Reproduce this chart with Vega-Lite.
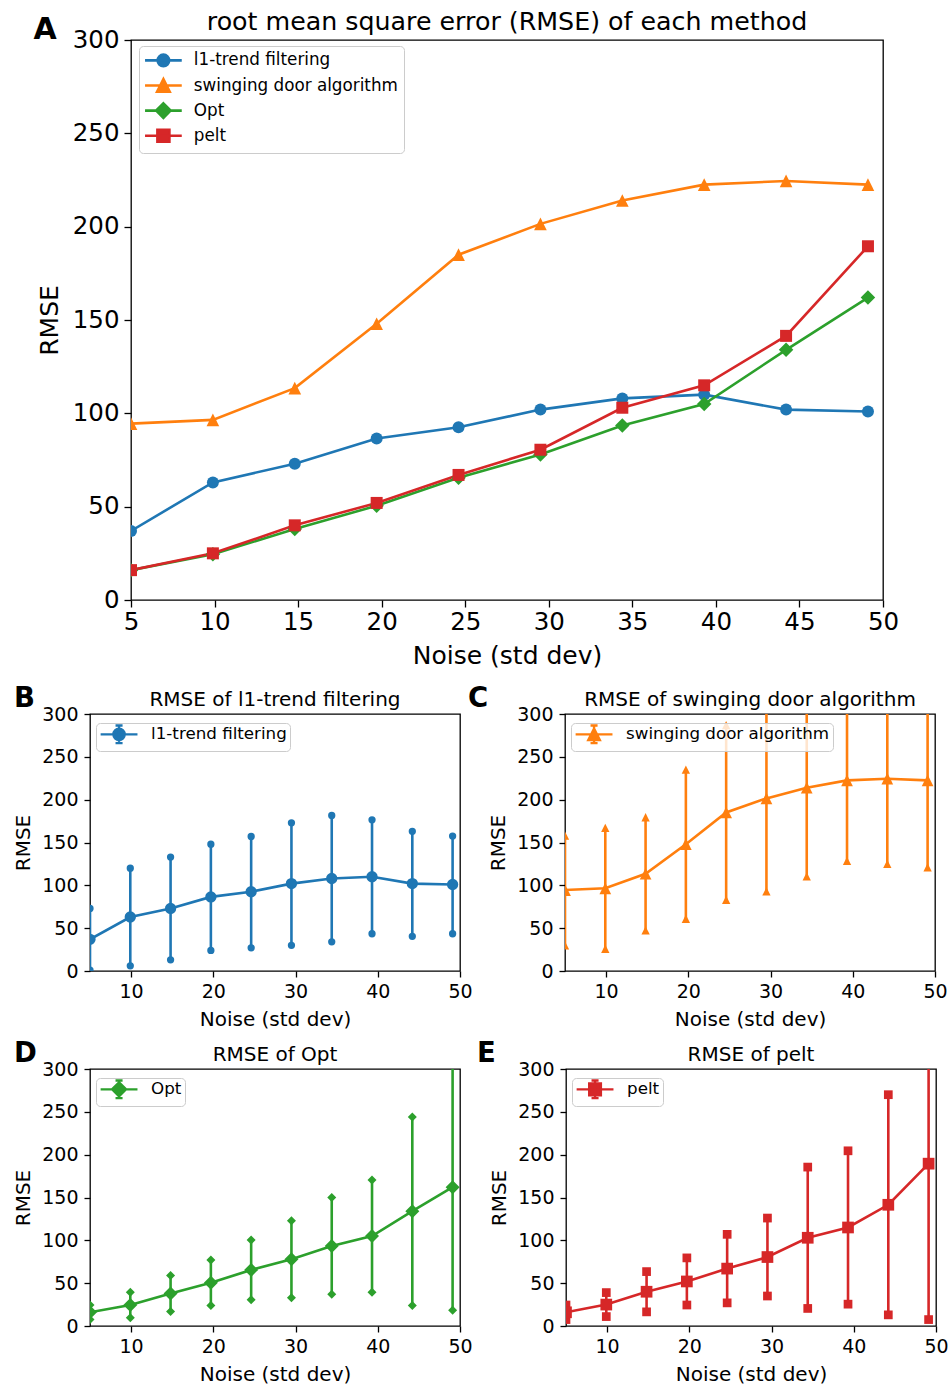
{
  "$schema": "https://vega.github.io/schema/vega-lite/v6.json",
  "background": "white",
  "padding": {"left": 13, "top": 9, "right": 5, "bottom": 1},
  "config": {
    "font": "DejaVu Sans",
    "view": {"stroke": "black", "strokeWidth": 1.3},
    "axis": {"grid": false, "domain": false, "tickColor": "black", "tickWidth": 1.3, "labelColor": "black", "titleColor": "black", "titleFontWeight": "normal", "labelFlush": false, "labelOverlap": false},
    "title": {"color": "black", "fontWeight": "normal"},
    "legend": {"title": null, "orient": "none", "labelColor": "black", "labelLimit": 400, "strokeColor": "#cccccc", "fillColor": "rgba(255,255,255,0.8)", "cornerRadius": 4}
  },
  "datasets": {
    "rmse": [
      {"method": "l1-trend filtering", "noise": 5, "rmse": 37, "lo": 1, "hi": 73},
      {"method": "l1-trend filtering", "noise": 9.9, "rmse": 63, "lo": 6, "hi": 120},
      {"method": "l1-trend filtering", "noise": 14.8, "rmse": 73, "lo": 13, "hi": 133},
      {"method": "l1-trend filtering", "noise": 19.7, "rmse": 86.5, "lo": 24, "hi": 148},
      {"method": "l1-trend filtering", "noise": 24.6, "rmse": 92.5, "lo": 27, "hi": 157},
      {"method": "l1-trend filtering", "noise": 29.5, "rmse": 102, "lo": 30, "hi": 173},
      {"method": "l1-trend filtering", "noise": 34.4, "rmse": 108, "lo": 34, "hi": 181.5},
      {"method": "l1-trend filtering", "noise": 39.3, "rmse": 110, "lo": 43.5, "hi": 176.5},
      {"method": "l1-trend filtering", "noise": 44.2, "rmse": 102, "lo": 40.5, "hi": 163},
      {"method": "l1-trend filtering", "noise": 49.1, "rmse": 101, "lo": 43.5, "hi": 157.5},
      {"method": "swinging door algorithm", "noise": 5, "rmse": 94.5, "lo": 30, "hi": 158},
      {"method": "swinging door algorithm", "noise": 9.9, "rmse": 96.5, "lo": 26, "hi": 167},
      {"method": "swinging door algorithm", "noise": 14.8, "rmse": 113.5, "lo": 47.5, "hi": 179.5},
      {"method": "swinging door algorithm", "noise": 19.7, "rmse": 148, "lo": 61, "hi": 235},
      {"method": "swinging door algorithm", "noise": 24.6, "rmse": 185, "lo": 83, "hi": 287},
      {"method": "swinging door algorithm", "noise": 29.5, "rmse": 201.5, "lo": 93, "hi": 310},
      {"method": "swinging door algorithm", "noise": 34.4, "rmse": 214, "lo": 110.5, "hi": 317.5},
      {"method": "swinging door algorithm", "noise": 39.3, "rmse": 222.5, "lo": 128.5, "hi": 316.5},
      {"method": "swinging door algorithm", "noise": 44.2, "rmse": 224.5, "lo": 125, "hi": 324},
      {"method": "swinging door algorithm", "noise": 49.1, "rmse": 222.5, "lo": 121, "hi": 324},
      {"method": "Opt", "noise": 5, "rmse": 16, "lo": 7.5, "hi": 24.5},
      {"method": "Opt", "noise": 9.9, "rmse": 24.5, "lo": 9.5, "hi": 39.5},
      {"method": "Opt", "noise": 14.8, "rmse": 38, "lo": 17, "hi": 59},
      {"method": "Opt", "noise": 19.7, "rmse": 50.5, "lo": 24, "hi": 77},
      {"method": "Opt", "noise": 24.6, "rmse": 65.5, "lo": 30.5, "hi": 100.5},
      {"method": "Opt", "noise": 29.5, "rmse": 78, "lo": 33, "hi": 123},
      {"method": "Opt", "noise": 34.4, "rmse": 93.5, "lo": 37, "hi": 150},
      {"method": "Opt", "noise": 39.3, "rmse": 105, "lo": 39.5, "hi": 170.5},
      {"method": "Opt", "noise": 44.2, "rmse": 134, "lo": 24, "hi": 244},
      {"method": "Opt", "noise": 49.1, "rmse": 162, "lo": 18.5, "hi": 305.5},
      {"method": "pelt", "noise": 5, "rmse": 16, "lo": 7.5, "hi": 24.5},
      {"method": "pelt", "noise": 9.9, "rmse": 25, "lo": 11, "hi": 39},
      {"method": "pelt", "noise": 14.8, "rmse": 40, "lo": 16.5, "hi": 63.5},
      {"method": "pelt", "noise": 19.7, "rmse": 52, "lo": 24.5, "hi": 79.5},
      {"method": "pelt", "noise": 24.6, "rmse": 67, "lo": 27, "hi": 107},
      {"method": "pelt", "noise": 29.5, "rmse": 80.5, "lo": 35, "hi": 126},
      {"method": "pelt", "noise": 34.4, "rmse": 103, "lo": 20.5, "hi": 185.5},
      {"method": "pelt", "noise": 39.3, "rmse": 115, "lo": 25.5, "hi": 204.5},
      {"method": "pelt", "noise": 44.2, "rmse": 141.5, "lo": 13, "hi": 270},
      {"method": "pelt", "noise": 49.1, "rmse": 189.5, "lo": 7.5, "hi": 371.5}
    ]
  },
  "spacing": 14,
  "resolve": {"scale": {"color": "independent"}, "legend": {"color": "independent"}},
  "vconcat": [
    {
      "spacing": -61,
      "resolve": {"scale": {"color": "independent"}, "legend": {"color": "independent"}},
      "hconcat": [
        {"width": 1, "height": 10, "view": {"stroke": null}, "data": {"values": [{}]}, "mark": {"type": "point", "opacity": 0}},
        {
          "title": {"text": "A", "anchor": "start", "frame": "bounds", "fontSize": 30, "fontWeight": "bold", "baseline": "alphabetic", "offset": 0, "dx": -3, "dy": 60},
          "vconcat": [
            {
              "title": {"text": "root mean square error (RMSE) of each method", "fontSize": 25.3, "offset": 10, "dy": 18},
              "width": 752,
              "height": 560,
              "data": {"name": "rmse"},
              "encoding": {
                "x": {"field": "noise", "type": "quantitative", "scale": {"domain": [5, 50], "nice": false, "zero": false},
                      "axis": {"values": [5, 10, 15, 20, 25, 30, 35, 40, 45, 50], "title": "Noise (std dev)", "labelFontSize": 24.5, "titleFontSize": 25, "tickSize": 7, "labelPadding": 3, "titlePadding": 10}},
                "y": {"field": "rmse", "type": "quantitative", "scale": {"domain": [0, 300], "nice": false},
                      "axis": {"values": [0, 50, 100, 150, 200, 250, 300], "title": "RMSE", "labelFontSize": 24.5, "titleFontSize": 25, "tickSize": 7, "labelPadding": 5, "titlePadding": 10}},
                "color": {"field": "method", "type": "nominal",
                          "scale": {"domain": ["l1-trend filtering", "swinging door algorithm", "Opt", "pelt"], "range": ["#1f77b4", "#ff7f0e", "#2ca02c", "#d62728"]},
                          "legend": {"legendX": 8, "legendY": 6, "padding": 6, "labelFontSize": 16.8, "symbolSize": 144, "symbolOffset": 10, "labelOffset": 22, "rowPadding": 1.1,
                                     "encode": {"symbols": {"update": {
                                       "shape": {"signal": "datum.value === 'l1-trend filtering' ? 'M-3.06,0H3.06M0.96,0A0.96,0.96 0 1,1 -0.96,0A0.96,0.96 0 1,1 0.96,0Z' : datum.value === 'swinging door algorithm' ? 'M-3.06,0H3.06M0,-1.05L1.05,1.05L-1.05,1.05Z' : datum.value === 'Opt' ? 'M-3.06,0H3.06M0,-1.2L1.2,0L0,1.2L-1.2,0Z' : 'M-3.06,0H3.06M-1,-1H1V1H-1Z'"},
                                       "fill": {"signal": "datum.value === 'l1-trend filtering' ? '#1f77b4' : datum.value === 'swinging door algorithm' ? '#ff7f0e' : datum.value === 'Opt' ? '#2ca02c' : '#d62728'"},
                                       "stroke": {"signal": "datum.value === 'l1-trend filtering' ? '#1f77b4' : datum.value === 'swinging door algorithm' ? '#ff7f0e' : datum.value === 'Opt' ? '#2ca02c' : '#d62728'"},
                                       "strokeWidth": {"value": 2.6},
                                       "opacity": {"value": 1}
                                     }}}}}
              },
              "layer": [
                {"mark": {"type": "line", "strokeWidth": 2.6, "clip": true}},
                {"transform": [{"filter": "datum.method === 'l1-trend filtering'"}], "mark": {"type": "point", "filled": true, "opacity": 1, "shape": "circle", "size": 144, "clip": true}},
                {"transform": [{"filter": "datum.method === 'swinging door algorithm'"}], "mark": {"type": "point", "filled": true, "opacity": 1, "shape": "M0,-1L1,1L-1,1Z", "size": 160, "clip": true}},
                {"transform": [{"filter": "datum.method === 'Opt'"}], "mark": {"type": "point", "filled": true, "opacity": 1, "shape": "diamond", "size": 210, "clip": true}},
                {"transform": [{"filter": "datum.method === 'pelt'"}], "mark": {"type": "point", "filled": true, "opacity": 1, "shape": "square", "size": 144, "clip": true}}
              ]
            }
          ]
        }
      ]
    },
    {
      "spacing": 9,
      "resolve": {"scale": {"color": "independent"}, "legend": {"color": "independent"}},
      "vconcat": [
        {
          "spacing": -5,
          "resolve": {"scale": {"color": "independent"}, "legend": {"color": "independent"}},
          "hconcat": [
            {
              "title": {"text": "B", "anchor": "start", "frame": "bounds", "fontSize": 27.5, "fontWeight": "bold", "baseline": "alphabetic", "offset": 0, "dx": 1, "dy": 45},
              "vconcat": [
                {
                  "title": {"text": "RMSE of l1-trend filtering", "fontSize": 20, "offset": 8, "dy": 13},
                  "width": 370, "height": 257,
                  "data": {"name": "rmse"},
                  "transform": [{"filter": "datum.method === 'l1-trend filtering'"}],
                  "encoding": {
                    "x": {"field": "noise", "type": "quantitative", "scale": {"domain": [5, 50], "nice": false, "zero": false},
                          "axis": {"values": [10, 20, 30, 40, 50], "title": "Noise (std dev)", "labelFontSize": 19, "titleFontSize": 20, "tickSize": 6, "labelPadding": 5, "titlePadding": 8}},
                    "color": {"field": "method", "type": "nominal", "scale": {"domain": ["l1-trend filtering"], "range": ["#1f77b4"]},
                              "legend": {"legendX": 6, "legendY": 9, "padding": 3, "labelFontSize": 16.7, "symbolSize": 121, "symbolOffset": 11.7, "labelOffset": 23.7,
                                         "encode": {"symbols": {"update": {"shape": {"value": "M-3.35,0H3.35M0,-1.6V1.6M-0.64,-1.6H0.64M-0.64,1.6H0.64M1.03,0A1.03,1.03 0 1,1 -1.03,0A1.03,1.03 0 1,1 1.03,0Z"}, "fill": {"value": "#1f77b4"}, "stroke": {"value": "#1f77b4"}, "strokeWidth": {"value": 2.4}, "opacity": {"value": 1}}}}}}
                  },
                  "layer": [
                    {"mark": {"type": "line", "strokeWidth": 2.6, "clip": true},
                     "encoding": {"y": {"field": "rmse", "type": "quantitative", "scale": {"domain": [0, 300], "nice": false},
                                        "axis": {"values": [0, 50, 100, 150, 200, 250, 300], "title": "RMSE", "labelFontSize": 19, "titleFontSize": 20, "tickSize": 6, "labelPadding": 6, "titlePadding": 8}}}},
                    {"mark": {"type": "rule", "strokeWidth": 2.6, "clip": true}, "encoding": {"y": {"field": "lo", "type": "quantitative"}, "y2": {"field": "hi"}}},
                    {"mark": {"type": "point", "filled": true, "opacity": 1, "shape": "circle", "size": 53, "clip": true}, "encoding": {"y": {"field": "lo", "type": "quantitative"}}},
                    {"mark": {"type": "point", "filled": true, "opacity": 1, "shape": "circle", "size": 53, "clip": true}, "encoding": {"y": {"field": "hi", "type": "quantitative"}}},
                    {"mark": {"type": "point", "filled": true, "opacity": 1, "shape": "circle", "size": 128, "clip": true}, "encoding": {"y": {"field": "rmse", "type": "quantitative"}}}
                  ]
                }
              ]
            },
            {
              "title": {"text": "C", "anchor": "start", "frame": "bounds", "fontSize": 27.5, "fontWeight": "bold", "baseline": "alphabetic", "offset": 0, "dx": -20, "dy": 45},
              "vconcat": [
                {
                  "title": {"text": "RMSE of swinging door algorithm", "fontSize": 20, "offset": 8, "dy": 13},
                  "width": 370, "height": 257,
                  "data": {"name": "rmse"},
                  "transform": [{"filter": "datum.method === 'swinging door algorithm'"}],
                  "encoding": {
                    "x": {"field": "noise", "type": "quantitative", "scale": {"domain": [5, 50], "nice": false, "zero": false},
                          "axis": {"values": [10, 20, 30, 40, 50], "title": "Noise (std dev)", "labelFontSize": 19, "titleFontSize": 20, "tickSize": 6, "labelPadding": 5, "titlePadding": 8}},
                    "color": {"field": "method", "type": "nominal", "scale": {"domain": ["swinging door algorithm"], "range": ["#ff7f0e"]},
                              "legend": {"legendX": 6, "legendY": 9, "padding": 3, "labelFontSize": 16.7, "symbolSize": 121, "symbolOffset": 11.7, "labelOffset": 23.7,
                                         "encode": {"symbols": {"update": {"shape": {"value": "M-3.35,0H3.35M0,-1.6V1.6M-0.64,-1.6H0.64M-0.64,1.6H0.64M0,-1.05L1.05,1.05L-1.05,1.05Z"}, "fill": {"value": "#ff7f0e"}, "stroke": {"value": "#ff7f0e"}, "strokeWidth": {"value": 2.4}, "opacity": {"value": 1}}}}}}
                  },
                  "layer": [
                    {"mark": {"type": "line", "strokeWidth": 2.6, "clip": true},
                     "encoding": {"y": {"field": "rmse", "type": "quantitative", "scale": {"domain": [0, 300], "nice": false},
                                        "axis": {"values": [0, 50, 100, 150, 200, 250, 300], "title": "RMSE", "labelFontSize": 19, "titleFontSize": 20, "tickSize": 6, "labelPadding": 6, "titlePadding": 8}}}},
                    {"mark": {"type": "rule", "strokeWidth": 2.6, "clip": true}, "encoding": {"y": {"field": "lo", "type": "quantitative"}, "y2": {"field": "hi"}}},
                    {"mark": {"type": "point", "filled": true, "opacity": 1, "shape": "M0,-1L1,1L-1,1Z", "size": 69, "clip": true}, "encoding": {"y": {"field": "lo", "type": "quantitative"}}},
                    {"mark": {"type": "point", "filled": true, "opacity": 1, "shape": "M0,-1L1,1L-1,1Z", "size": 69, "clip": true}, "encoding": {"y": {"field": "hi", "type": "quantitative"}}},
                    {"mark": {"type": "point", "filled": true, "opacity": 1, "shape": "M0,-1L1,1L-1,1Z", "size": 137, "clip": true}, "encoding": {"y": {"field": "rmse", "type": "quantitative"}}}
                  ]
                }
              ]
            }
          ]
        },
        {
          "spacing": 4,
          "resolve": {"scale": {"color": "independent"}, "legend": {"color": "independent"}},
          "hconcat": [
            {
              "title": {"text": "D", "anchor": "start", "frame": "bounds", "fontSize": 27.5, "fontWeight": "bold", "baseline": "alphabetic", "offset": 0, "dx": 1, "dy": 45},
              "vconcat": [
                {
                  "title": {"text": "RMSE of Opt", "fontSize": 20, "offset": 8, "dy": 13},
                  "width": 370, "height": 257,
                  "data": {"name": "rmse"},
                  "transform": [{"filter": "datum.method === 'Opt'"}],
                  "encoding": {
                    "x": {"field": "noise", "type": "quantitative", "scale": {"domain": [5, 50], "nice": false, "zero": false},
                          "axis": {"values": [10, 20, 30, 40, 50], "title": "Noise (std dev)", "labelFontSize": 19, "titleFontSize": 20, "tickSize": 6, "labelPadding": 5, "titlePadding": 8}},
                    "color": {"field": "method", "type": "nominal", "scale": {"domain": ["Opt"], "range": ["#2ca02c"]},
                              "legend": {"legendX": 6, "legendY": 9, "padding": 3, "labelFontSize": 16.7, "symbolSize": 121, "symbolOffset": 11.7, "labelOffset": 23.7,
                                         "encode": {"symbols": {"update": {"shape": {"value": "M-3.35,0H3.35M0,-1.6V1.6M-0.64,-1.6H0.64M-0.64,1.6H0.64M0,-1.27L1.27,0L0,1.27L-1.27,0Z"}, "fill": {"value": "#2ca02c"}, "stroke": {"value": "#2ca02c"}, "strokeWidth": {"value": 2.4}, "opacity": {"value": 1}}}}}}
                  },
                  "layer": [
                    {"mark": {"type": "line", "strokeWidth": 2.6, "clip": true},
                     "encoding": {"y": {"field": "rmse", "type": "quantitative", "scale": {"domain": [0, 300], "nice": false},
                                        "axis": {"values": [0, 50, 100, 150, 200, 250, 300], "title": "RMSE", "labelFontSize": 19, "titleFontSize": 20, "tickSize": 6, "labelPadding": 6, "titlePadding": 8}}}},
                    {"mark": {"type": "rule", "strokeWidth": 2.6, "clip": true}, "encoding": {"y": {"field": "lo", "type": "quantitative"}, "y2": {"field": "hi"}}},
                    {"mark": {"type": "point", "filled": true, "opacity": 1, "shape": "diamond", "size": 81, "clip": true}, "encoding": {"y": {"field": "lo", "type": "quantitative"}}},
                    {"mark": {"type": "point", "filled": true, "opacity": 1, "shape": "diamond", "size": 81, "clip": true}, "encoding": {"y": {"field": "hi", "type": "quantitative"}}},
                    {"mark": {"type": "point", "filled": true, "opacity": 1, "shape": "diamond", "size": 196, "clip": true}, "encoding": {"y": {"field": "rmse", "type": "quantitative"}}}
                  ]
                }
              ]
            },
            {
              "title": {"text": "E", "anchor": "start", "frame": "bounds", "fontSize": 27.5, "fontWeight": "bold", "baseline": "alphabetic", "offset": 0, "dx": -12, "dy": 45},
              "vconcat": [
                {
                  "title": {"text": "RMSE of pelt", "fontSize": 20, "offset": 8, "dy": 13},
                  "width": 370, "height": 257,
                  "data": {"name": "rmse"},
                  "transform": [{"filter": "datum.method === 'pelt'"}],
                  "encoding": {
                    "x": {"field": "noise", "type": "quantitative", "scale": {"domain": [5, 50], "nice": false, "zero": false},
                          "axis": {"values": [10, 20, 30, 40, 50], "title": "Noise (std dev)", "labelFontSize": 19, "titleFontSize": 20, "tickSize": 6, "labelPadding": 5, "titlePadding": 8}},
                    "color": {"field": "method", "type": "nominal", "scale": {"domain": ["pelt"], "range": ["#d62728"]},
                              "legend": {"legendX": 6, "legendY": 9, "padding": 3, "labelFontSize": 16.7, "symbolSize": 121, "symbolOffset": 11.7, "labelOffset": 23.7,
                                         "encode": {"symbols": {"update": {"shape": {"value": "M-3.35,0H3.35M0,-1.6V1.6M-0.64,-1.6H0.64M-0.64,1.6H0.64M-1.06,-1.06H1.06V1.06H-1.06Z"}, "fill": {"value": "#d62728"}, "stroke": {"value": "#d62728"}, "strokeWidth": {"value": 2.4}, "opacity": {"value": 1}}}}}}
                  },
                  "layer": [
                    {"mark": {"type": "line", "strokeWidth": 2.6, "clip": true},
                     "encoding": {"y": {"field": "rmse", "type": "quantitative", "scale": {"domain": [0, 300], "nice": false},
                                        "axis": {"values": [0, 50, 100, 150, 200, 250, 300], "title": "RMSE", "labelFontSize": 19, "titleFontSize": 20, "tickSize": 6, "labelPadding": 6, "titlePadding": 8}}}},
                    {"mark": {"type": "rule", "strokeWidth": 2.6, "clip": true}, "encoding": {"y": {"field": "lo", "type": "quantitative"}, "y2": {"field": "hi"}}},
                    {"mark": {"type": "point", "filled": true, "opacity": 1, "shape": "square", "size": 76, "clip": true}, "encoding": {"y": {"field": "lo", "type": "quantitative"}}},
                    {"mark": {"type": "point", "filled": true, "opacity": 1, "shape": "square", "size": 76, "clip": true}, "encoding": {"y": {"field": "hi", "type": "quantitative"}}},
                    {"mark": {"type": "point", "filled": true, "opacity": 1, "shape": "square", "size": 137, "clip": true}, "encoding": {"y": {"field": "rmse", "type": "quantitative"}}}
                  ]
                }
              ]
            }
          ]
        }
      ]
    }
  ]
}
